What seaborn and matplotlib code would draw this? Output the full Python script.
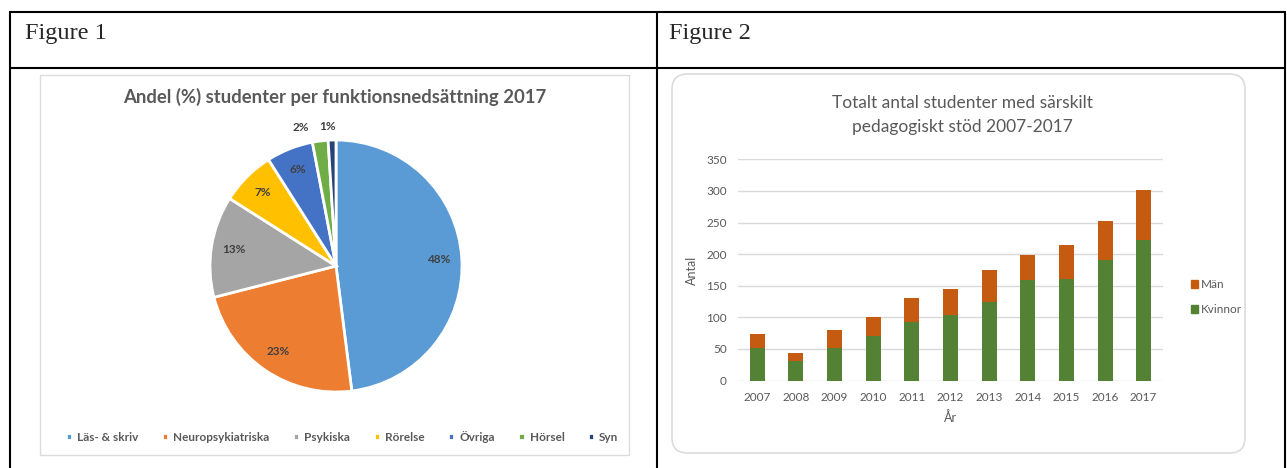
import numpy as np
import pandas as pd
import matplotlib
matplotlib.use("Agg")
import matplotlib.pyplot as plt
from matplotlib.lines import Line2D
from matplotlib.patches import Rectangle, FancyBboxPatch
import seaborn as sns

# ---------------- data ----------------
pie_labels = ["Läs- & skriv", "Neuropsykiatriska", "Psykiska", "Rörelse", "Övriga", "Hörsel", "Syn"]
pie_values = [48, 23, 13, 7, 6, 2, 1]
pie_colors = ["#5B9BD5", "#ED7D31", "#A5A5A5", "#FFC000", "#4472C4", "#70AD47", "#264478"]

years = ["2007", "2008", "2009", "2010", "2011", "2012", "2013", "2014", "2015", "2016", "2017"]
kvinnor = [52, 31, 51, 71, 92, 104, 125, 159, 160, 190, 223]
man = [21, 13, 29, 30, 39, 40, 50, 40, 55, 62, 79]
yticks = [0, 50, 100, 150, 200, 250, 300, 350]

pie_title = "Andel (%) studenter per funktionsnedsättning 2017"
bar_title = "Totalt antal studenter med särskilt\npedagogiskt stöd 2007-2017"

# ---------------- setup ----------------
sns.set_theme(style="white")
plt.rcParams["font.family"] = ["Lato", "DejaVu Sans"]
GRAY = "#595959"

W, H = 1287, 468
fig = plt.figure(figsize=(W / 100, H / 100), dpi=100)
fig.patch.set_facecolor("white")


def fx(x):
    return x / W


def fy(y):
    return 1 - y / H


def add_axes_px(x0, y0, x1, y1):
    return fig.add_axes([fx(x0), fy(y1), (x1 - x0) / W, (y1 - y0) / H])


# ---------------- table frame ----------------
lw = 1.5
for (xa, ya, xb, yb) in [(10, 12, 1285, 12), (10, 12, 10, 468), (1285, 12, 1285, 468),
                         (10, 68, 1285, 68), (657, 12, 657, 468)]:
    fig.add_artist(Line2D([fx(xa), fx(xb)], [fy(ya), fy(yb)], color="black", lw=lw,
                          transform=fig.transFigure))

fig.text(fx(25), fy(34), "Figure 1", family="Liberation Serif", fontsize=17.5, va="center", ha="left")
fig.text(fx(669), fy(34), "Figure 2", family="Liberation Serif", fontsize=17.5, va="center", ha="left")

# chart frames
fig.add_artist(Rectangle((fx(40), fy(455)), (629 - 40) / W, (455 - 75) / H,
                         transform=fig.transFigure, fill=False, ec="#dcdcdc", lw=1))
fig.add_artist(FancyBboxPatch((fx(672), fy(453)), (1245 - 672) / W, (453 - 74) / H,
                              boxstyle="round,pad=0,rounding_size=0.012",
                              transform=fig.transFigure, fill=False, ec="#dcdcdc", lw=1.2,
                              mutation_aspect=W / H))

# ---------------- Figure 1: pie ----------------
fig.text(fx(334.5), fy(97), pie_title, ha="center", va="center", fontsize=13.3,
         fontweight="bold", color=GRAY)

ax1 = add_axes_px(210, 140, 462, 392)
wedges, _ = ax1.pie(pie_values, colors=pie_colors, startangle=90, counterclock=False,
                    wedgeprops=dict(edgecolor="white", linewidth=2))
ax1.set_xlim(-1, 1)
ax1.set_ylim(-1, 1)
ax1.set_aspect("auto")
ax1.axis("off")

for w, v in zip(wedges, pie_values):
    ang = np.deg2rad((w.theta1 + w.theta2) / 2)
    if v >= 5:
        r = 0.82
        ax1.text(r * np.cos(ang), r * np.sin(ang), f"{v}%", ha="center", va="center",
                 fontsize=8.5, fontweight="bold", color="#404040")
# small slices labelled outside at the top
small = [(wedges[5], pie_values[5], -14), (wedges[6], pie_values[6], -3)]
for w, v, dx in small:
    ang = np.deg2rad((w.theta1 + w.theta2) / 2)
    ax1.annotate(f"{v}%", xy=(np.cos(ang), np.sin(ang)), xytext=(dx, 10),
                 textcoords="offset points", ha="center", va="center",
                 fontsize=8.5, fontweight="bold", color="#404040")

fig.legend(wedges, pie_labels, loc="center", bbox_to_anchor=(fx(342), fy(437)), ncol=7,
           frameon=False, handlelength=0.55, handleheight=0.55, handletextpad=0.4,
           columnspacing=2.0, prop=dict(size=8.5, weight="bold"), labelcolor=GRAY)

# ---------------- Figure 2: stacked bars ----------------
fig.text(fx(962), fy(115), bar_title, ha="center", va="center", fontsize=12.5,
         color=GRAY, linespacing=1.55)

totals = [k + m for k, m in zip(kvinnor, man)]
df = pd.DataFrame({"År": years, "Kvinnor": kvinnor, "Total": totals})

ax2 = add_axes_px(738, 159.3, 1163, 380.5)
sns.barplot(data=df, x="År", y="Total", color="#C55A11", saturation=1, width=0.39,
            ax=ax2, linewidth=0, edgecolor="none")
sns.barplot(data=df, x="År", y="Kvinnor", color="#548235", saturation=1, width=0.39,
            ax=ax2, linewidth=0, edgecolor="none")
ax2.set_ylim(0, 350)
ax2.set_xlim(-0.5, len(years) - 0.5)
ax2.set_yticks(yticks)
ax2.yaxis.grid(True, color="#d9d9d9", lw=1)
ax2.set_axisbelow(True)
for s in ax2.spines.values():
    s.set_visible(False)
ax2.tick_params(axis="both", length=0, labelsize=8.5, labelcolor=GRAY, pad=8)
ax2.set_xlabel("År", fontsize=9, color=GRAY, labelpad=6)
ax2.set_ylabel("Antal", fontsize=9, color=GRAY, labelpad=6)

h_m = Rectangle((0, 0), 1, 1, color="#C55A11")
h_k = Rectangle((0, 0), 1, 1, color="#548235")
fig.legend([h_m, h_k], ["Män", "Kvinnor"], loc="center left",
           bbox_to_anchor=(fx(1180), fy(297)), frameon=False, handlelength=0.6,
           handleheight=0.6, handletextpad=0.3, labelspacing=1.2,
           prop=dict(size=8.5), labelcolor=GRAY)

fig.savefig("out.png", dpi=100, facecolor="white")
